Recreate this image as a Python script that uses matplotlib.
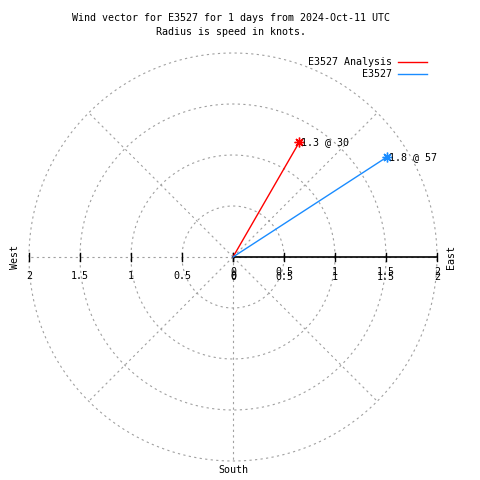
import numpy as np
import matplotlib
matplotlib.use('Agg')
import matplotlib.pyplot as plt

# datos
series = ['E3527 Analysis', 'E3527']
speeds = [1.3, 1.8]          # nudos
directions = [30, 57]        # grados desde el norte
colors = ['#ff0000', '#1a8cff']
ring_values = [0.5, 1, 1.5, 2]
tick_values = [0, 0.5, 1, 1.5, 2]
tick_labels = ['0', '0.5', '1', '1.5', '2']

plt.rcParams['font.family'] = 'DejaVu Sans Mono'
fs = 7.2

fig = plt.figure(figsize=(4.8, 4.8), dpi=100)
ax = fig.add_axes([0, 0, 1, 1])
ppu = 102.0  # pixeles por unidad
cx, cy = 233.0, 257.0
ax.set_xlim(-cx / ppu, (480 - cx) / ppu)
ax.set_ylim((cy - 480) / ppu, cy / ppu)
ax.axis('off')

grid_kw = dict(color='#a0a0a0', lw=0.8, ls=(0, (2, 3)))

# circulos
th = np.linspace(0, 2 * np.pi, 400)
for r in ring_values:
    ax.plot(r * np.cos(th), r * np.sin(th), **grid_kw)

# lineas radiales cada 45 grados
for a in range(0, 360, 45):
    if a == 90:
        continue
    rad = np.deg2rad(a)
    ax.plot([0, 2 * np.cos(rad)], [0, 2 * np.sin(rad)], **grid_kw)

# eje este solido
ax.plot([0, 2], [0, 0], color='black', lw=1.2)
tk = 4 / ppu
for v in tick_values:
    ax.plot([v, v], [-tk, tk], color='black', lw=1)
    ax.plot([-v, -v], [-tk, tk], color='black', lw=1)

# etiquetas de ticks
for v, lab in zip(tick_values, tick_labels):
    ax.text(-v, -19 / ppu, lab, ha='center', va='center', fontsize=fs)
    ax.text(v, -15 / ppu, lab, ha='center', va='center', fontsize=fs)
    ax.text(v, -20 / ppu, lab, ha='center', va='center', fontsize=fs)

ax.text(-218 / ppu, 0, 'West', rotation=90, ha='center', va='center', fontsize=fs)
ax.text(218 / ppu, 0, 'East', rotation=90, ha='center', va='center', fontsize=fs)
ax.text(0, -213 / ppu, 'South', ha='center', va='center', fontsize=fs)

# vectores
for s, sp, d, c in zip(series, speeds, directions, colors):
    x = sp * np.sin(np.deg2rad(d))
    y = sp * np.cos(np.deg2rad(d))
    ax.plot([0, x], [0, y], color=c, lw=1)
    ax.plot([x], [y], marker=(8, 2, 0), ms=7, mew=1, color=c)
    ax.text(x + 2 / ppu, y, f'{sp} @ {d}', ha='left', va='center', fontsize=fs)

# leyenda
for i, (s, c) in enumerate(zip(series, colors)):
    yy = (cy - 62 - 12 * i) / ppu
    ax.text(392 / ppu - cx / ppu, yy, s, ha='right', va='center', fontsize=fs)
    ax.plot([(398 - cx) / ppu, (427 - cx) / ppu], [yy, yy], color=c, lw=1)

fig.text(231 / 480, 1 - 18 / 480, 'Wind vector for E3527 for 1 days from 2024-Oct-11 UTC',
         ha='center', va='center', fontsize=fs)
fig.text(231 / 480, 1 - 32 / 480, 'Radius is speed in knots.',
         ha='center', va='center', fontsize=fs)

fig.savefig('out.png', dpi=100)
